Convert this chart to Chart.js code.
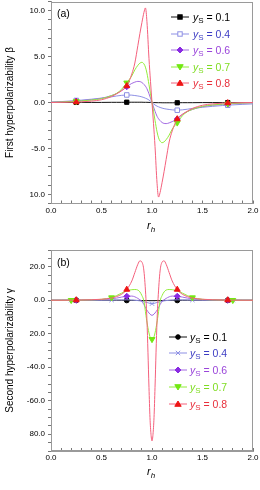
<!DOCTYPE html>
<html><head><meta charset="utf-8">
<script src="https://cdn.jsdelivr.net/npm/chart.js@4/dist/chart.umd.min.js"></script>
<style>
html,body{margin:0;padding:0;background:#fff;width:260px;height:490px;overflow:hidden;font-family:"Liberation Sans",Arial,sans-serif;}
canvas{position:absolute;left:0;}
#ca{top:0}#cb{top:245px}
.ov{position:absolute;font-size:10.5px;line-height:10px;white-space:nowrap;color:#000}
.rh{position:absolute;font-size:11px;line-height:11px;font-style:italic;white-space:nowrap}
.rh sub{font-size:8px;vertical-align:-3px;line-height:0}
.leg{position:absolute;height:10px;width:90px;white-space:nowrap;font-size:10.5px;line-height:10px}
.leg svg{position:absolute;left:0;top:0}
.leg span{position:absolute;top:0}
.leg sub{font-size:8px;vertical-align:-2px;line-height:0}
</style></head>
<body>
<canvas id="ca" width="260" height="245"></canvas>
<canvas id="cb" width="260" height="245"></canvas>
<div class="ov" style="left:57px;top:8px">(a)</div>
<div class="ov" style="left:57px;top:257px">(b)</div>
<div class="rh" style="left:147px;top:220px">r<sub>h</sub></div>
<div class="rh" style="left:147px;top:466px">r<sub>h</sub></div>
<div id="legs"></div>
<script>
// ---------- data ----------
const xTickValues = [0, 0.5, 1, 1.5, 2];
const xTickLabels = ['0.0', '0.5', '1.0', '1.5', '2.0'];
const yTickValuesA = [10, 5, 0, -5, -10];
const yTickLabelsA = ['10.0', '5.0', '0.0', '-5.0', '10.0'];
const yTickValuesB = [20, 0, -20, -40, -60, -80];
const yTickLabelsB = ['20.0', '0.0', '20.0', '-40.0', '-60.0', '80.0'];
const seriesLabels = ['0.1', '0.4', '0.6', '0.7', '0.8'];

// panel (a): first hyperpolarizability beta vs r_h
const rA = [0,0.1,0.2,0.25,0.3,0.4,0.5,0.6,0.65,0.7,0.75,0.8,0.83,0.86,0.88,0.9,0.92,0.935,0.95,0.97,0.985,
  1.0,
  1.015,1.03,1.05,1.065,1.08,1.1,1.12,1.14,1.17,1.2,1.25,1.3,1.35,1.4,1.5,1.6,1.7,1.75,1.8,1.9,2.0];
const betaY01 = [0,0,0.01,0.01,0.01,0.01,0.01,0.02,0.02,0.02,0.03,0.03,0.03,0.03,0.03,0.03,0.02,0.02,0.02,0.01,0.01,
  0,
  -0.01,-0.01,-0.02,-0.02,-0.02,-0.03,-0.03,-0.03,-0.03,-0.03,-0.03,-0.02,-0.02,-0.02,-0.01,-0.01,-0.01,-0.01,-0.01,0,0];
const betaY04 = [0.05,0.1,0.17,0.22,0.26,0.36,0.48,0.62,0.71,0.78,0.82,0.8,0.76,0.71,0.67,0.61,0.54,0.47,0.4,0.27,0.14,
  0,
  -0.14,-0.27,-0.4,-0.47,-0.54,-0.61,-0.67,-0.71,-0.76,-0.8,-0.84,-0.8,-0.73,-0.65,-0.52,-0.42,-0.33,-0.3,-0.26,-0.2,-0.15];
const betaY06 = [0.03,0.07,0.12,0.16,0.2,0.3,0.46,0.76,0.98,1.3,1.72,2.08,2.22,2.3,2.28,2.18,1.98,1.78,1.5,0.95,0.48,
  0,
  -0.48,-0.95,-1.5,-1.78,-1.98,-2.18,-2.28,-2.3,-2.22,-2.08,-1.8,-1.3,-0.98,-0.76,-0.46,-0.3,-0.2,-0.16,-0.12,-0.07,-0.03];
const betaY07 = [0.02,0.05,0.1,0.13,0.17,0.27,0.42,0.75,1.0,1.45,2.15,2.9,3.55,4.05,4.28,4.38,4.2,3.85,3.2,1.95,0.95,
  0,
  -0.95,-1.95,-3.2,-3.85,-4.2,-4.38,-4.28,-4.05,-3.55,-2.9,-2.2,-1.45,-1.0,-0.75,-0.42,-0.27,-0.17,-0.13,-0.1,-0.05,-0.02];
const betaY08 = [0,0.02,0.04,0.05,0.07,0.15,0.3,0.65,0.95,1.3,1.8,3.1,4.3,6.2,7.5,8.7,9.8,10.3,8.8,4.8,2.3,
  0,
  -2.3,-4.8,-8.8,-10.3,-9.8,-8.7,-7.5,-6.2,-4.3,-3.1,-1.8,-1.3,-0.95,-0.65,-0.3,-0.15,-0.07,-0.05,-0.04,-0.02,0];
const markA01 = [0.25,0.75,1.25,1.75];
const markA04 = [0.25,0.75,1.25,1.75];
const markA06 = [0.25,0.75,1.25,1.75];
const markA07 = [0.25,0.75,1.25,1.75];
const markA08 = [0.25,0.75,1.25,1.75];

// panel (b): second hyperpolarizability gamma vs r_h
const rB = [0,0.1,0.2,0.25,0.3,0.4,0.5,0.6,0.65,0.7,0.75,0.8,0.83,0.86,0.88,0.9,0.92,0.94,0.95,0.96,0.97,0.98,0.99,
  1.0,
  1.01,1.02,1.03,1.04,1.05,1.06,1.08,1.1,1.12,1.14,1.17,1.2,1.25,1.3,1.35,1.4,1.5,1.6,1.7,1.75,1.8,1.9,2.0];
const gammaY01 = [0,0,0,0,0,0,0,0,0,0,-0.05,-0.08,-0.1,-0.12,-0.13,-0.15,-0.17,-0.19,-0.2,-0.21,-0.22,-0.23,-0.24,
  -0.25,
  -0.24,-0.23,-0.22,-0.21,-0.2,-0.19,-0.17,-0.15,-0.13,-0.12,-0.1,-0.08,-0.05,0,0,0,0,0,0,0,0,0,0];
const gammaY04 = [0,0,0,0,0.01,0.03,0.06,0.12,0.17,0.22,0.27,0.15,0,-0.2,-0.38,-0.6,-0.88,-1.2,-1.36,-1.52,-1.7,-1.86,-1.98,
  -2.05,
  -1.98,-1.86,-1.7,-1.52,-1.36,-1.2,-0.88,-0.6,-0.38,-0.2,0,0.15,0.27,0.22,0.17,0.12,0.06,0.03,0.01,0,0,0,0];
const gammaY06 = [0,0,0.02,0.05,0.08,0.2,0.4,0.9,1.3,1.9,2.4,2.5,2.05,1.1,0.3,-0.7,-2.6,-5.0,-5.9,-6.8,-7.6,-8.3,-8.8,
  -9.0,
  -8.8,-8.3,-7.6,-6.8,-5.9,-5.0,-2.6,-0.7,0.3,1.1,2.05,2.5,2.4,1.9,1.3,0.9,0.4,0.2,0.08,0.05,0.02,0,0];
const gammaY07 = [0,0,0.03,0.06,0.1,0.25,0.55,1.6,2.8,4.3,5.6,6.3,6.4,6.1,5.0,2.8,-0.5,-9,-13,-16.5,-19.5,-21.8,-23,
  -23.3,
  -23,-21.8,-19.5,-16.5,-13,-9,-0.5,2.8,5.0,6.1,6.4,6.3,5.6,4.3,2.8,1.6,0.55,0.25,0.1,0.06,0.03,0,0];
const gammaY08 = [0,0,0.05,0.1,0.15,0.3,0.6,1.3,2.2,3.6,6.4,11.5,16.5,21.5,23.5,22.8,17.5,1,-12,-31,-52,-70,-80,
  -84,
  -80,-70,-52,-31,-12,1,17.5,22.8,23.5,21.5,16.5,11.5,6.4,3.6,2.2,1.3,0.6,0.3,0.15,0.1,0.05,0,0];
const markB01 = [0.25,0.75,1.25,1.75];
const markB04 = [0.2,0.6,1.0,1.4,1.8];
const markB06 = [0.25,0.75,1.25,1.75];
const markB07 = [0.2,0.6,1.0,1.4,1.8];
const markB08 = [0.25,0.75,1.25,1.75];

// ---------- styles ----------
const FONT = '"Liberation Sans", Arial, sans-serif';
const stylesA = [
  {line:'#111111', mark:'#000000', fill:'#000000', text:'#000000', shape:'rect', rot:0, r:3},
  {line:'#8d8fe4', mark:'#8d8fe4', fill:'#ffffff', text:'#3d3dc4', shape:'rect', rot:0, r:3.2},
  {line:'#a36ae2', mark:'#8a2be2', fill:'#8a2be2', text:'#9a45da', shape:'rectRot', rot:0, r:3},
  {line:'#93ec3a', mark:'#72e812', fill:'#72e812', text:'#7fdc22', shape:'triangle', rot:180, r:3.4},
  {line:'#f4607c', mark:'#ee1414', fill:'#ee1414', text:'#e8303c', shape:'triangle', rot:0, r:3.4}
];
const stylesB = [
  {line:'#111111', mark:'#000000', fill:'#000000', text:'#000000', shape:'circle', rot:0, r:2.5},
  {line:'#8d8fe4', mark:'#8d8fe4', fill:'#8d8fe4', text:'#3d3dc4', shape:'crossRot', rot:0, r:3},
  {line:'#a36ae2', mark:'#8a2be2', fill:'#8a2be2', text:'#9a45da', shape:'rectRot', rot:0, r:3},
  {line:'#93ec3a', mark:'#72e812', fill:'#72e812', text:'#7fdc22', shape:'triangle', rot:180, r:3.4},
  {line:'#f4607c', mark:'#ee1414', fill:'#ee1414', text:'#e8303c', shape:'triangle', rot:0, r:3.4}
];

const framePlugin = {
  id: 'frame',
  beforeDatasetsDraw(chart) {
    const a = chart.chartArea, c = chart.ctx;
    c.save(); c.strokeStyle = '#9a9a9a'; c.lineWidth = 1;
    c.strokeRect(Math.round(a.left) + 0.5, Math.round(a.top) + 0.5, Math.round(a.right - a.left) - 1, Math.round(a.bottom - a.top) - 1);
    c.restore();
  }
};

function labelFor(vals, labs, v) {
  const i = vals.findIndex(t => Math.abs(t - v) < 1e-6);
  return i >= 0 ? labs[i] : '';
}

function build(id, xs, ys, marks, styles, yMin, yMax, yStep, yVals, yLabs, title, padTop, xH) {
  const datasets = ys.map((arr, i) => ({
    data: xs.map((x, j) => ({x: x, y: arr[j]})),
    borderColor: styles[i].line, borderWidth: 1,
    pointStyle: styles[i].shape, pointRotation: styles[i].rot,
    pointBackgroundColor: styles[i].fill, pointBorderColor: styles[i].mark, pointBorderWidth: 1,
    pointRadius: ctx => (ctx.raw && marks[i].includes(ctx.raw.x)) ? styles[i].r : 0,
    pointHoverRadius: 0, cubicInterpolationMode: 'monotone', fill: false, order: 4 - i
  }));
  return new Chart(document.getElementById(id), {
    type: 'line',
    data: {datasets},
    plugins: [framePlugin],
    options: {
      responsive: false, animation: false, events: [], devicePixelRatio: 1,
      layout: {padding: {left: 0, right: 7, top: padTop, bottom: 0}},
      plugins: {legend: {display: false}, tooltip: {enabled: false}},
      scales: {
        x: {
          type: 'linear', min: 0, max: 2,
          afterBuildTicks: s => { const t = []; for (let k = 0; k <= 20; k++) t.push({value: k / 10}); s.ticks = t; },
          ticks: {autoSkip: false, maxRotation: 0, padding: 5, color: '#000', font: {size: 8, family: FONT},
                  callback: v => labelFor(xTickValues, xTickLabels, v)},
          grid: {drawOnChartArea: false, tickLength: -3, color: '#777'},
          border: {color: '#9a9a9a'},
          afterFit: s => { s.height = xH; s.paddingLeft = 0; s.paddingRight = 0; }
        },
        y: {
          type: 'linear', min: yMin, max: yMax,
          afterBuildTicks: s => { const t = []; for (let v = yMin; v <= yMax + 1e-9; v += yStep) t.push({value: v}); s.ticks = t; },
          ticks: {autoSkip: false, padding: 3, color: '#000', font: {size: 8, family: FONT},
                  callback: v => labelFor(yVals, yLabs, v)},
          grid: {drawOnChartArea: false, tickLength: 3, color: '#777'},
          border: {color: '#9a9a9a'},
          title: {display: true, text: title, color: '#000', font: {size: 10, family: FONT}, padding: {top: 4, bottom: 0}},
          afterFit: s => { s.width = 51; s.paddingTop = 0; s.paddingBottom = 0; }
        }
      }
    }
  });
}

build('ca', rA, [betaY01, betaY04, betaY06, betaY07, betaY08],
  [markA01, markA04, markA06, markA07, markA08], stylesA,
  -11, 11, 1, yTickValuesA, yTickLabelsA, 'First hyperpolarizability \u03B2', 1.5, 41.5);
build('cb', rB, [gammaY01, gammaY04, gammaY06, gammaY07, gammaY08],
  [markB01, markB04, markB06, markB07, markB08], stylesB,
  -90, 30, 5, yTickValuesB, yTickLabelsB, 'Second hyperpolarizability \u03B3', 5, 39);

// ---------- legends (HTML) ----------
function markerSvg(st) {
  const cx = 9, cy = 5, c = st.mark, f = st.fill;
  let m = '';
  if (st.shape === 'rect') m = `<rect x="${cx-2.2}" y="${cy-2.2}" width="4.4" height="4.4" fill="${f}" stroke="${c}" stroke-width="1"/>`;
  else if (st.shape === 'rectRot') m = `<polygon points="${cx},${cy-3} ${cx+3},${cy} ${cx},${cy+3} ${cx-3},${cy}" fill="${f}" stroke="${c}"/>`;
  else if (st.shape === 'triangle' && st.rot === 180) m = `<polygon points="${cx-3.2},${cy-2.3} ${cx+3.2},${cy-2.3} ${cx},${cy+3}" fill="${f}" stroke="${c}"/>`;
  else if (st.shape === 'triangle') m = `<polygon points="${cx-3.2},${cy+2.3} ${cx+3.2},${cy+2.3} ${cx},${cy-3}" fill="${f}" stroke="${c}"/>`;
  else if (st.shape === 'circle') m = `<circle cx="${cx}" cy="${cy}" r="2.3" fill="${f}" stroke="${c}"/>`;
  else if (st.shape === 'crossRot') m = `<path d="M${cx-2.2} ${cy-2.2}L${cx+2.2} ${cy+2.2}M${cx+2.2} ${cy-2.2}L${cx-2.2} ${cy+2.2}" stroke="${c}" stroke-width="1"/>`;
  return `<svg width="18" height="10"><line x1="0" y1="${cy}" x2="18" y2="${cy}" stroke="${st.line}" stroke-width="1"/>${m}</svg>`;
}
function legend(styles, left, tops, textOff) {
  const host = document.getElementById('legs');
  styles.forEach((st, i) => {
    const d = document.createElement('div');
    d.className = 'leg';
    d.style.left = left + 'px'; d.style.top = tops[i] + 'px';
    d.innerHTML = markerSvg(st) + `<span style="left:${textOff}px;color:${st.text}"><i>y</i><sub>S</sub> = ${seriesLabels[i]}</span>`;
    host.appendChild(d);
  });
}
legend(stylesA, 171, [12, 28.5, 45, 61.5, 78], 22);
legend(stylesB, 169, [332, 348, 365, 382, 399], 21);
</script>
</body></html>
